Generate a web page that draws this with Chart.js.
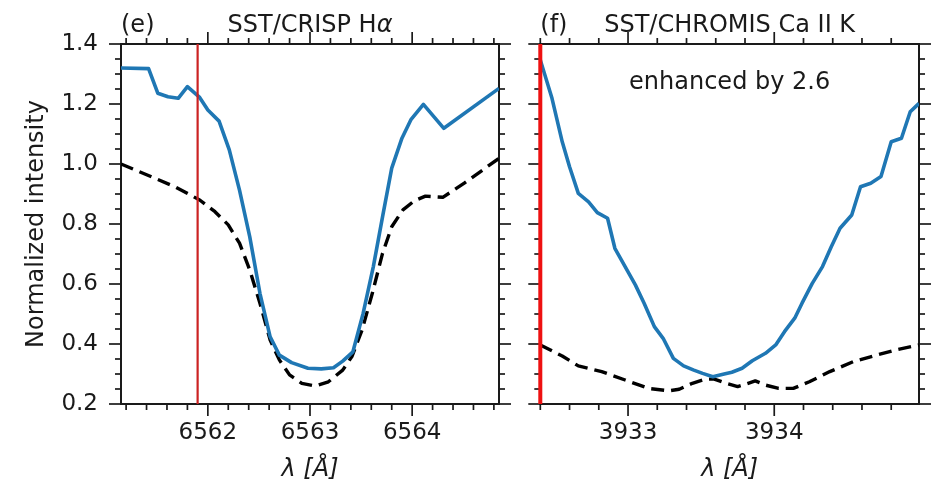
<!DOCTYPE html>
<html>
<head>
<meta charset="utf-8">
<script src="https://cdn.jsdelivr.net/npm/chart.js@4"></script>
<style>
  body { margin: 0; background: #fff; }
  #wrap { position: relative; width: 932px; height: 487px; }
  canvas { position: absolute; top: 0; }
</style>
</head>
<body>
<div id="wrap">
  <canvas id="left" width="516" height="487" style="left:0"></canvas>
  <canvas id="right" width="416" height="487" style="left:516px"></canvas>
</div>
<script>
// panel (e): SST/CRISP H-alpha
var haWave = [6561.15, 6561.42, 6561.51, 6561.61, 6561.71, 6561.80, 6561.92, 6562.00, 6562.11, 6562.21,
  6562.31, 6562.41, 6562.51, 6562.61, 6562.70, 6562.82, 6562.98, 6563.11, 6563.23, 6563.32,
  6563.42, 6563.52, 6563.62, 6563.71, 6563.80, 6563.90, 6563.99, 6564.11, 6564.31, 6564.85];
var haObs = [1.320, 1.318, 1.236, 1.224, 1.219, 1.258, 1.222, 1.180, 1.143, 1.047,
  0.913, 0.758, 0.569, 0.424, 0.363, 0.338, 0.319, 0.317, 0.321, 0.343,
  0.374, 0.502, 0.658, 0.824, 0.986, 1.086, 1.149, 1.199, 1.119, 1.252];
var haWaveRef = [6561.15, 6561.68, 6561.92, 6562.07, 6562.20, 6562.31, 6562.41, 6562.51, 6562.61, 6562.70,
  6562.80, 6562.92, 6563.05, 6563.18, 6563.32, 6563.41, 6563.51, 6563.61, 6563.71, 6563.80,
  6563.91, 6564.02, 6564.13, 6564.30, 6564.51, 6564.85];
var haRef = [1.000, 0.924, 0.880, 0.841, 0.797, 0.736, 0.647, 0.536, 0.413, 0.347,
  0.297, 0.269, 0.260, 0.274, 0.313, 0.358, 0.447, 0.569, 0.702, 0.791,
  0.847, 0.877, 0.893, 0.889, 0.936, 1.019];
var haMarker = 6561.9;
var haRange = [6561.15, 6564.85];
var haTicks = [6562, 6563, 6564];

// panel (f): SST/CHROMIS Ca II K
var caWave = [3932.40, 3932.48, 3932.55, 3932.60, 3932.66, 3932.73, 3932.79, 3932.86, 3932.91, 3932.98,
  3933.05, 3933.11, 3933.18, 3933.24, 3933.31, 3933.38, 3933.45, 3933.51, 3933.58, 3933.65,
  3933.71, 3933.78, 3933.85, 3933.94, 3934.01, 3934.07, 3934.14, 3934.19, 3934.26, 3934.33,
  3934.39, 3934.45, 3934.53, 3934.59, 3934.66, 3934.73, 3934.80, 3934.87, 3934.93, 3934.99];
var caObs = [1.347, 1.219, 1.074, 0.991, 0.902, 0.874, 0.838, 0.819, 0.719, 0.658,
  0.597, 0.536, 0.458, 0.419, 0.352, 0.327, 0.313, 0.302, 0.291, 0.299,
  0.306, 0.319, 0.344, 0.369, 0.397, 0.441, 0.486, 0.536, 0.602, 0.658,
  0.724, 0.786, 0.830, 0.924, 0.936, 0.958, 1.074, 1.086, 1.174, 1.202];
var caWaveRef = [3932.40, 3932.55, 3932.66, 3932.82, 3932.98, 3933.14, 3933.28, 3933.35, 3933.44, 3933.53,
  3933.59, 3933.67, 3933.75, 3933.81, 3933.87, 3933.94, 3934.03, 3934.13, 3934.24, 3934.38,
  3934.54, 3934.70, 3934.83, 3934.99];
var caRef = [0.397, 0.360, 0.327, 0.308, 0.280, 0.252, 0.244, 0.249, 0.269, 0.283,
  0.283, 0.269, 0.258, 0.267, 0.277, 0.263, 0.252, 0.252, 0.274, 0.308,
  0.341, 0.363, 0.380, 0.397];
var caMarker = 3932.4;
var caRange = [3932.4, 3934.99];
var caTicks = [3933, 3934];

var yRange = [0.2, 1.4];
var yTicks = [0.2, 0.4, 0.6, 0.8, 1.0, 1.2, 1.4];

var FONT = 'DejaVu Sans';
var INK = '#1a1a1a';

function toXY(xs, ys) {
  return xs.map(function (x, i) { return { x: x, y: ys[i] }; });
}

// spines plus outward major/minor ticks on all four sides
var frame = {
  id: 'frame',
  beforeDatasetsDraw: function (chart) {
    var ctx = chart.ctx, a = chart.chartArea;
    var xs = chart.scales.x, ys = chart.scales.y;
    ctx.save();
    ctx.strokeStyle = INK;
    ctx.lineWidth = 1.7;
    function seg(x1, y1, x2, y2) { ctx.beginPath(); ctx.moveTo(x1, y1); ctx.lineTo(x2, y2); ctx.stroke(); }
    function marks(scale, minor, major, horiz) {
      var i0 = Math.ceil(scale.min / minor - 1e-6), i1 = Math.floor(scale.max / minor + 1e-6);
      for (var i = i0; i <= i1; i++) {
        var v = i * minor, r = v / major;
        var len = Math.abs(r - Math.round(r)) < 1e-6 ? 12 : 6;
        var p = scale.getPixelForValue(v);
        if (horiz) { seg(p, a.bottom, p, a.bottom + len); seg(p, a.top, p, a.top - len); }
        else { seg(a.left, p, a.left - len, p); seg(a.right, p, a.right + len, p); }
      }
    }
    marks(xs, 0.2, 1, true);
    marks(ys, 0.05, 0.2, false);
    ctx.lineWidth = 2;
    ctx.strokeRect(a.left, a.top, a.right - a.left, a.bottom - a.top);
    ctx.restore();
  },
  afterDraw: function (chart, args, opts) {
    var ctx = chart.ctx, a = chart.chartArea;
    var cx = (a.left + a.right) / 2;
    ctx.save();
    ctx.fillStyle = INK;
    ctx.textBaseline = 'alphabetic';
    var up = '24px "' + FONT + '"', it = 'italic 24px "' + FONT + '"';
    ctx.font = up;
    ctx.textAlign = 'left';
    ctx.fillText(opts.label, a.left, 32);
    var w1 = ctx.measureText(opts.title).width;
    ctx.font = it;
    var w2 = opts.sym ? ctx.measureText(opts.sym).width : 0;
    var x0 = cx - (w1 + w2) / 2;
    ctx.font = up;
    ctx.fillText(opts.title, x0, 32);
    if (opts.sym) { ctx.font = it; ctx.fillText(opts.sym, x0 + w1, 32); }
    if (opts.note) {
      ctx.font = up;
      ctx.textAlign = 'center';
      ctx.fillText(opts.note, cx, 89);
    }
    ctx.restore();
  }
};

function panel(id, d) {
  var hasY = d.yAxis;
  return new Chart(document.getElementById(id), {
    type: 'line',
    data: {
      datasets: [
        { data: [{ x: d.marker, y: yRange[0] }, { x: d.marker, y: yRange[1] }],
          borderColor: d.markerColor, borderWidth: d.markerWidth, clip: 6 },
        { data: toXY(d.wave, d.obs), borderColor: '#1f77b4', borderWidth: 3.6 },
        { data: toXY(d.waveRef, d.ref), borderColor: '#000', borderWidth: 3.4, borderDash: [13, 7] }
      ]
    },
    options: {
      responsive: false,
      animation: false,
      events: [],
      elements: { point: { radius: 0 }, line: { tension: 0, borderCapStyle: 'butt', borderJoinStyle: 'round' } },
      layout: { padding: { top: 44, right: d.padRight, left: d.padLeft, bottom: 0 } },
      plugins: {
        legend: { display: false },
        tooltip: { enabled: false },
        frame: { label: d.label, title: d.title, sym: d.sym, note: d.note }
      },
      scales: {
        x: {
          type: 'linear',
          min: d.range[0],
          max: d.range[1],
          grid: { display: false, drawTicks: false },
          border: { display: false },
          afterBuildTicks: function (s) { s.ticks = d.ticks.map(function (v) { return { value: v }; }); },
          afterFit: function (s) { s.height = 83; },
          ticks: { padding: 15, color: INK, font: { family: FONT, size: 23 },
                   maxRotation: 0, callback: function (v) { return String(v); } },
          title: { display: true, text: 'λ [Å]', color: INK,
                   font: { family: FONT, size: 24, style: 'italic' }, padding: { top: 0, bottom: 3 } }
        },
        y: {
          display: hasY,
          min: yRange[0],
          max: yRange[1],
          grid: { display: false, drawTicks: false },
          border: { display: false },
          afterBuildTicks: function (s) { s.ticks = yTicks.map(function (v) { return { value: v }; }); },
          afterFit: function (s) { if (hasY) s.width = 121; },
          ticks: { padding: 23, color: INK, font: { family: FONT, size: 23 },
                   callback: function (v) { return v.toFixed(1); } },
          title: { display: true, text: 'Normalized intensity', color: INK,
                   font: { family: FONT, size: 24 }, padding: { top: 22, bottom: 0 } }
        }
      }
    },
    plugins: [frame]
  });
}

panel('left', {
  yAxis: true, padLeft: 0, padRight: 17,
  wave: haWave, obs: haObs, waveRef: haWaveRef, ref: haRef,
  marker: haMarker, markerColor: '#cc2222', markerWidth: 2.2,
  range: haRange, ticks: haTicks,
  label: '(e)', title: 'SST/CRISP H', sym: 'α', note: ''
});

panel('right', {
  yAxis: false, padLeft: 24.3, padRight: 13,
  wave: caWave, obs: caObs, waveRef: caWaveRef, ref: caRef,
  marker: caMarker, markerColor: '#ee1111', markerWidth: 4,
  range: caRange, ticks: caTicks,
  label: '(f)', title: 'SST/CHROMIS Ca II K', sym: '', note: 'enhanced by 2.6'
});
</script>
</body>
</html>
